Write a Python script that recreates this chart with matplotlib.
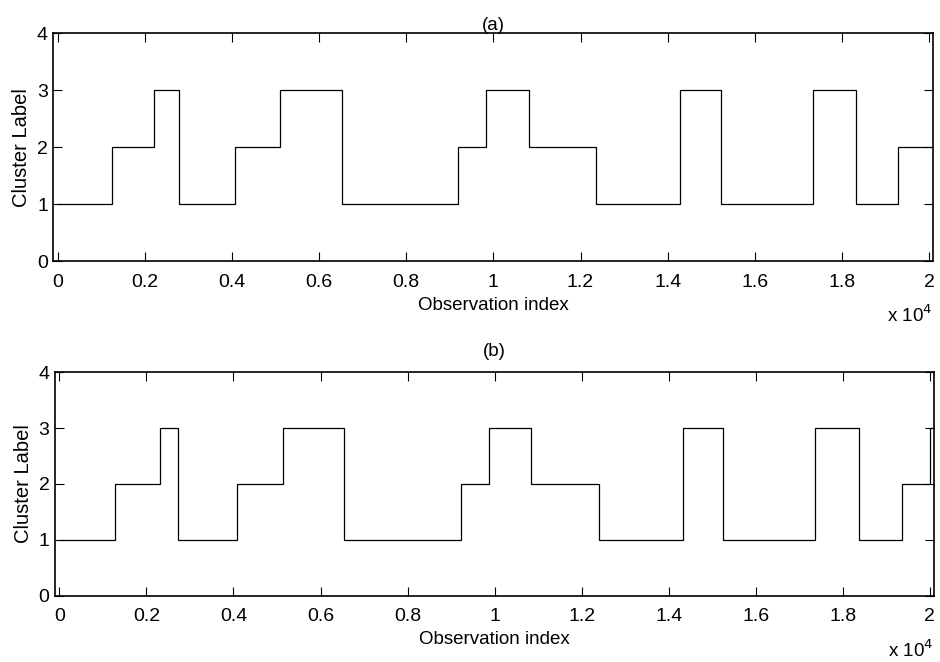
import numpy as np
import matplotlib
matplotlib.use('Agg')
import matplotlib.pyplot as plt

plt.rcParams['font.family'] = ['Liberation Sans', 'DejaVu Sans']

# change points (observation index) and cluster label of each segment
edges_a = [0, 1237, 2199, 2780, 4070, 5093, 6514, 9187, 9836, 10820,
           12355, 14273, 15219, 17327, 18320, 19297, 20100]
labels_a = [1, 2, 3, 1, 2, 3, 1, 2, 3, 2, 1, 3, 1, 3, 1, 2]

edges_b = [0, 1272, 2306, 2720, 4074, 5131, 6539, 9219, 9862, 10841,
           12403, 14325, 15243, 17356, 18367, 19354, 20000, 20100]
labels_b = [1, 2, 3, 1, 2, 3, 1, 2, 3, 2, 1, 3, 1, 3, 1, 2, 3]

xticks = np.arange(0, 20001, 2000)
xticklabels = ['0', '0.2', '0.4', '0.6', '0.8', '1', '1.2', '1.4', '1.6', '1.8', '2']
yticks = [0, 1, 2, 3, 4]

fig = plt.figure(figsize=(9.4, 6.62), dpi=100)
ax1 = fig.add_axes([0.0569, 0.6057, 0.936, 0.344])
ax2 = fig.add_axes([0.0585, 0.1002, 0.9354, 0.3375])

panels = [(ax1, edges_a, labels_a, '(a)', 2.5), (ax2, edges_b, labels_b, '(b)', 12)]
for ax, edges, labels, title, tpad in panels:
    ax.stairs(labels, edges, baseline=None, color='black', linewidth=0.9)
    ax.set_xlim(-100, 20100)
    ax.set_ylim(0, 4)
    ax.set_xticks(xticks)
    ax.set_xticklabels(xticklabels)
    ax.set_yticks(yticks)
    ax.tick_params(direction='in', top=True, right=True, length=6.5, width=0.8,
                   labelsize=14)
    ax.tick_params(axis='x', pad=9)
    ax.tick_params(axis='y', pad=4)
    for s in ax.spines.values():
        s.set_linewidth(1.2)
    ax.set_xlabel('Observation index', fontsize=13.5, labelpad=4.5)
    ax.set_ylabel('Cluster Label', fontsize=14.5, labelpad=4)
    ax.set_title(title, fontsize=13.5, pad=tpad)
    ax.annotate('x 10$^4$', xy=(1, 0), xycoords='axes fraction',
                xytext=(-1, -39), textcoords='offset points',
                ha='right', va='center', fontsize=13.5)

fig.savefig('out.png', dpi=100)
